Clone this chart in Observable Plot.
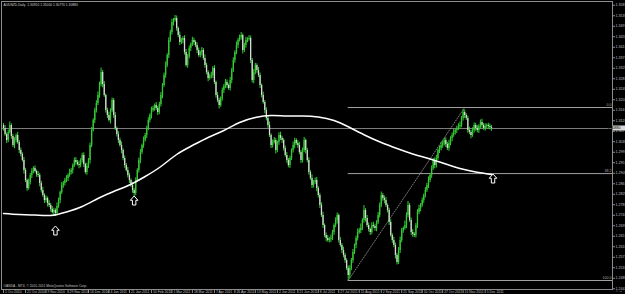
<!DOCTYPE html>
<html><head><meta charset="utf-8">
<script src="https://cdn.jsdelivr.net/npm/d3@7"></script>
<script src="https://cdn.jsdelivr.net/npm/@observablehq/plot@0.6"></script>
<style>
html,body{margin:0;padding:0;background:#000;overflow:hidden}
svg{display:block}
</style></head><body><div id="chart"></div>
<script>
const symbol = "AUDNZD";
const firstOpen = 1.3100;
const closes = [
1.3088,1.3064,1.3040,1.3072,1.3100,1.3056,1.3020,1.3040,1.3060,1.3032,
1.3000,1.2984,1.2960,1.2920,1.2880,1.2848,1.2872,1.2900,1.2916,1.2928,
1.2916,1.2904,1.2900,1.2868,1.2840,1.2820,1.2800,1.2808,1.2788,1.2780,
1.2764,1.2752,1.2760,1.2748,1.2776,1.2800,1.2832,1.2860,1.2868,1.2880,
1.2888,1.2900,1.2912,1.2920,1.2940,1.2960,1.2952,1.2944,1.2940,1.2960,
1.2980,1.2944,1.2912,1.2936,1.2960,1.3020,1.3080,1.3120,1.3160,1.3188,
1.3220,1.3264,1.3312,1.3264,1.3220,1.3160,1.3140,1.3120,1.3160,1.3200,
1.3140,1.3088,1.3064,1.3040,1.3020,1.3000,1.2968,1.2940,1.2920,1.2900,
1.2880,1.2860,1.2840,1.2828,1.2880,1.2920,1.2960,1.2992,1.3020,1.3040,
1.3060,1.3088,1.3120,1.3140,1.3160,1.3168,1.3180,1.3168,1.3152,1.3184,
1.3220,1.3260,1.3300,1.3340,1.3380,1.3440,1.3472,1.3512,1.3520,1.3528,
1.3488,1.3460,1.3432,1.3440,1.3448,1.3392,1.3340,1.3376,1.3408,1.3424,
1.3440,1.3432,1.3420,1.3400,1.3380,1.3392,1.3400,1.3368,1.3340,1.3312,
1.3288,1.3296,1.3300,1.3328,1.3272,1.3220,1.3200,1.3180,1.3208,1.3240,
1.3256,1.3272,1.3260,1.3248,1.3280,1.3320,1.3360,1.3392,1.3420,1.3440,
1.3452,1.3460,1.3400,1.3420,1.3440,1.3444,1.3448,1.3360,1.3280,1.3312,
1.3340,1.3320,1.3300,1.3260,1.3220,1.3192,1.3160,1.3128,1.3100,1.3060,
1.3020,1.3032,1.3040,1.3000,1.3032,1.3060,1.3048,1.3040,1.3008,1.2980,
1.2960,1.2940,1.2968,1.3000,1.3020,1.3040,1.3028,1.3020,1.2992,1.2960,
1.3000,1.3040,1.3000,1.2960,1.2912,1.2888,1.2860,1.2872,1.2880,1.2848,
1.2820,1.2780,1.2740,1.2700,1.2660,1.2648,1.2640,1.2644,1.2648,1.2672,
1.2700,1.2720,1.2740,1.2640,1.2620,1.2600,1.2580,1.2560,1.2528,1.2500,
1.2528,1.2560,1.2592,1.2620,1.2648,1.2672,1.2680,1.2688,1.2720,1.2760,
1.2728,1.2700,1.2684,1.2672,1.2700,1.2696,1.2688,1.2712,1.2740,1.2780,
1.2820,1.2808,1.2800,1.2780,1.2760,1.2712,1.2660,1.2640,1.2620,1.2580,
1.2552,1.2600,1.2640,1.2680,1.2688,1.2700,1.2740,1.2780,1.2720,1.2672,
1.2664,1.2660,1.2700,1.2752,1.2768,1.2780,1.2800,1.2820,1.2840,1.2860,
1.2880,1.2900,1.2928,1.2960,1.2940,1.2968,1.3000,1.3008,1.3020,1.3028,
1.3040,1.3024,1.3008,1.3028,1.3048,1.3060,1.3072,1.3080,1.3088,1.3096,
1.3100,1.3128,1.3152,1.3140,1.3128,1.3080,1.3072,1.3060,1.3080,1.3100,
1.3088,1.3080,1.3096,1.3112,1.3100,1.3088,1.3096,1.3100,1.3096,1.3092,1.3088
];
// wick lengths beyond the candle body, in pips
const hiWick = [
8,12,6,10,14,7,9,11,6,13,8,10,7,12,9,6,14,8,11,7,
10,6,12,8,9,13,7,10,6,11,8,12,9,7,14,10,6,12,8,9,
11,7,13,9,6,10,12,8,14,7,9,11,6,13,8,10,12,7,9,11,
14,10,18,8,12,6,9,13,7,10,8,12,6,11,9,14,7,10,8,12,
9,6,13,8,11,7,10,12,6,14,8,9,11,7,13,10,6,12,8,9,
12,8,10,14,7,11,9,13,8,12,10,6,14,9,7,11,12,8,10,6,
13,9,7,11,10,6,12,8,14,9,7,10,13,8,11,6,12,9,7,10,
8,12,10,6,13,9,11,7,14,8,10,12,6,9,13,7,11,10,8,12,
9,7,12,10,6,13,8,11,9,14,7,10,12,8,6,11,13,9,7,10,
12,8,10,6,14,9,7,11,13,8,10,12,6,9,11,7,14,8,10,12,
7,9,11,13,6,10,12,8,14,9,7,11,10,6,12,8,13,9,7,10,
11,8,12,6,10,14,9,18,7,20,8,12,10,6,11,13,9,7,12,10,
14,8,10,12,6,9,11,7,13,10,8,12,14,9,6,18,11,16,8,10,
12,7,9,11,13,8,10,6,12,9,14,7,10,8,11,13,6,9,12,10,
8,11,9,13,7,10,12,6,9,11,14,8,12,10,7,9,13,8,11,10,
9,12,7,10,13,8,11,6,9,10,8
];
const loWick = [
10,7,12,9,6,11,8,13,10,7,12,9,6,14,8,11,7,10,12,9,
6,11,8,13,10,7,12,9,14,8,11,6,10,12,9,7,13,8,11,10,
9,12,7,10,14,8,11,6,13,9,10,12,7,11,8,14,9,6,12,10,
8,11,9,13,7,10,12,6,14,9,11,8,10,12,7,13,9,11,6,10,
12,8,11,14,9,7,10,13,8,11,6,12,9,10,14,7,11,8,12,9,
10,13,7,11,9,12,8,10,14,6,11,9,12,8,13,10,7,11,9,12,
8,11,9,12,7,10,14,8,11,9,13,7,10,12,8,11,9,14,7,10,
12,9,11,7,10,13,8,11,9,12,6,10,14,8,11,9,7,12,10,13,
9,11,8,12,10,7,13,9,11,8,12,10,6,14,9,11,8,12,10,7,
11,9,12,8,10,13,7,11,9,12,10,8,14,9,11,7,12,10,8,13,
10,12,8,11,9,13,7,10,12,8,11,9,14,10,7,12,9,11,8,20,
12,9,11,8,13,10,7,12,9,11,14,8,10,12,9,7,11,13,8,10,
9,11,13,8,10,12,7,11,9,14,10,8,12,9,11,7,13,10,8,12,
11,8,10,12,9,13,7,11,10,8,12,9,11,7,13,10,8,12,9,11,
10,12,8,11,9,13,7,10,12,8,11,9,10,12,8,11,9,13,7,10,
11,9,12,8,10,7,11,9,12,10,11
];
// moving average (white curve), sampled every 10 bars
const maIndex = [0,10,20,30,40,50,60,70,80,90,100,110,120,130,140,150,160,170,180,190,200,210,220,230,240,250,260,270,280,290,300,310];
const maValues = [1.2748,1.2744,1.2742,1.2740,1.2754,1.2776,1.2808,1.2836,1.2862,1.2896,1.2936,1.2984,1.3020,1.3052,1.3080,1.3112,1.3132,1.3140,1.3138,1.3138,1.3134,1.3120,1.3092,1.3060,1.3032,1.3008,1.2986,1.2968,1.2948,1.2928,1.2914,1.2904];
// Fibonacci retracement object
const fibLowIndex = 219, fibHighIndex = 293;
const fibLowPrice = 1.2480, fibHighPrice = 1.3172;
const fibLevels = [0, 38.2, 100];
const fibLabels = ["0.0", "38.2", "100.0"];
// arrow objects
const arrowIndex = [33, 83, 311];
const arrowPrice = [1.2680, 1.2800, 1.2888];
// axis labels
const yTicks = [1.3581,1.3539,1.3497,1.3455,1.3413,1.3371,1.3329,1.3287,1.3245,1.3203,1.3161,1.3119,1.3077,1.3035,1.2993,1.2951,1.2909,1.2867,1.2825,1.2783,1.2741,1.2699,1.2657,1.2615,1.2573,1.2531,1.2489,1.2447];
const dateLabels = ["1 Oct 2010","21 Oct 2010","9 Nov 2010","29 Nov 2010","16 Dec 2010","4 Jan 2011","21 Jan 2011","10 Feb 2011","1 Mar 2011","18 Mar 2011","7 Apr 2011","26 Apr 2011","13 May 2011","2 Jun 2011","21 Jun 2011","8 Jul 2011","27 Jul 2011","15 Aug 2011","2 Sep 2011","21 Sep 2011","10 Oct 2011","27 Oct 2011","15 Nov 2011","5 Dec 2011"];
const footerText = "OANDA - MT4, \u00a9 2001-2011 MetaQuotes Software Corp.";

// ---- build tables ----
const dates = [];
for (let d = new Date(Date.UTC(2010, 9, 1)); dates.length < closes.length + 80; d.setUTCDate(d.getUTCDate() + 1)) {
  const wd = d.getUTCDay();
  if (wd !== 0 && wd !== 6) dates.push(new Date(d));
}
const parseDate = d3.utcParse("%e %b %Y");
const dateTicks = dateLabels.map(s => ({label: s, i: d3.bisector(d => d).left(dates, parseDate(s))}));

const bars = closes.map((c, i) => {
  const o = i ? closes[i - 1] : firstOpen;
  return {i, open: o, close: c, high: Math.max(o, c) + hiWick[i] / 10000, low: Math.min(o, c) - loWick[i] / 10000};
});
const last = bars[bars.length - 1];
const ma = maIndex.map((i, k) => ({i, v: maValues[k]}));
const fib = fibLevels.map((l, k) => ({label: fibLabels[k], price: fibHighPrice - (fibHighPrice - fibLowPrice) * l / 100}));
const arrows = arrowIndex.map((i, k) => ({i, p: arrowPrice[k]}));
const titleText = `${symbol},Daily  ${last.open.toFixed(5)} ${last.high.toFixed(5)} ${last.low.toFixed(5)} ${last.close.toFixed(5)}`;

const xMin = -1.27, xMax = 386.9;
const green = "#34cc34";
const gray = "#8c8c8c";
const FONT = "'Liberation Sans', Arial, sans-serif";

// outlined block "up arrow" symbol (MT4 arrow object)
const upArrow = {
  draw(ctx, size) {
    const s = Math.sqrt(size / Math.PI);
    const h = s, w = s * 0.85, sh = s * 0.38, hy = -s * 0.05;
    ctx.moveTo(0, -h);
    ctx.lineTo(w, hy);
    ctx.lineTo(sh, hy);
    ctx.lineTo(sh, h);
    ctx.lineTo(-sh, h);
    ctx.lineTo(-sh, hy);
    ctx.lineTo(-w, hy);
    ctx.closePath();
  }
};

const plot = Plot.plot({
  width: 625, height: 294,
  marginLeft: 1, marginRight: 13, marginTop: 1, marginBottom: 5,
  style: {background: "#000", color: "#b4b4b4", fontFamily: FONT, fontSize: "4px", overflow: "visible"},
  x: {domain: [xMin, xMax], axis: null},
  y: {domain: [1.2444, 1.3596], axis: null},
  marks: [
    Plot.ruleY([last.close], {stroke: "#7c7c7c", strokeWidth: 1}),
    Plot.ruleY(fib, {y: "price", x1: fibLowIndex, x2: xMax, stroke: "#a0a0a0", strokeWidth: 1}),
    Plot.text(fib, {y: "price", x: xMax, text: "label", textAnchor: "end", dx: -1, dy: -2.5, fill: "#a8a8a8", fontSize: 3.6}),
    Plot.line([{i: fibLowIndex, p: fibLowPrice}, {i: fibHighIndex, p: fibHighPrice}], {x: "i", y: "p", stroke: "#9a9a9a", strokeDasharray: "1,1.5", strokeWidth: 0.8}),
    Plot.ruleX(bars, {x: "i", y1: "low", y2: "high", stroke: green, strokeWidth: 1}),
    Plot.ruleX(bars.filter(b => b.close >= b.open), {x: "i", y1: "open", y2: "close", stroke: green, strokeWidth: 1.3}),
    Plot.ruleX(bars.filter(b => b.close < b.open), {x: "i", y1: "open", y2: "close", stroke: "#d8d8d8", strokeWidth: 1.3}),
    Plot.line(ma, {x: "i", y: "v", stroke: "#ffffff", strokeWidth: 1.5, curve: "natural"}),
    Plot.dot(arrows, {x: "i", y: "p", symbol: upArrow, r: 4.5, fill: "#000", stroke: "#ffffff", strokeWidth: 1}),
    Plot.frame({stroke: gray}),
    Plot.axisY(yTicks, {anchor: "right", tickSize: 2, tickPadding: 1, tickFormat: d => d.toFixed(5), fontSize: 3.6, stroke: gray, fill: "#c0c0c0"}),
    Plot.axisX(dateTicks.map(d => d.i), {anchor: "bottom", tickSize: 4, tickFormat: () => "", stroke: gray}),
    Plot.text(dateTicks, {x: "i", text: "label", frameAnchor: "bottom", dy: 3, dx: 1.5, textAnchor: "start", fontSize: 3.4, fill: "#c0c0c0"}),
    Plot.text([titleText], {frameAnchor: "top-left", dx: 2, dy: 3, textAnchor: "start", lineAnchor: "middle", fill: "#d0d0d0", fontSize: 3.3}),
    Plot.text([footerText], {frameAnchor: "bottom-left", dx: 2, dy: -4, textAnchor: "start", lineAnchor: "middle", fill: "#c0c0c0", fontSize: 3.3})
  ]
});
document.getElementById("chart").appendChild(plot);

// current price label box on the price scale
const py = plot.scale("y").apply(last.close);
const g = d3.select(plot).append("g");
g.append("rect").attr("x", 613).attr("y", py - 2.5).attr("width", 12).attr("height", 5).attr("fill", "#d8d8d8");
g.append("text").attr("x", 614).attr("y", py).attr("dy", "0.35em").attr("font-size", 3.6).attr("fill", "#000").attr("font-family", FONT).text(last.close.toFixed(5));
</script></body></html>
